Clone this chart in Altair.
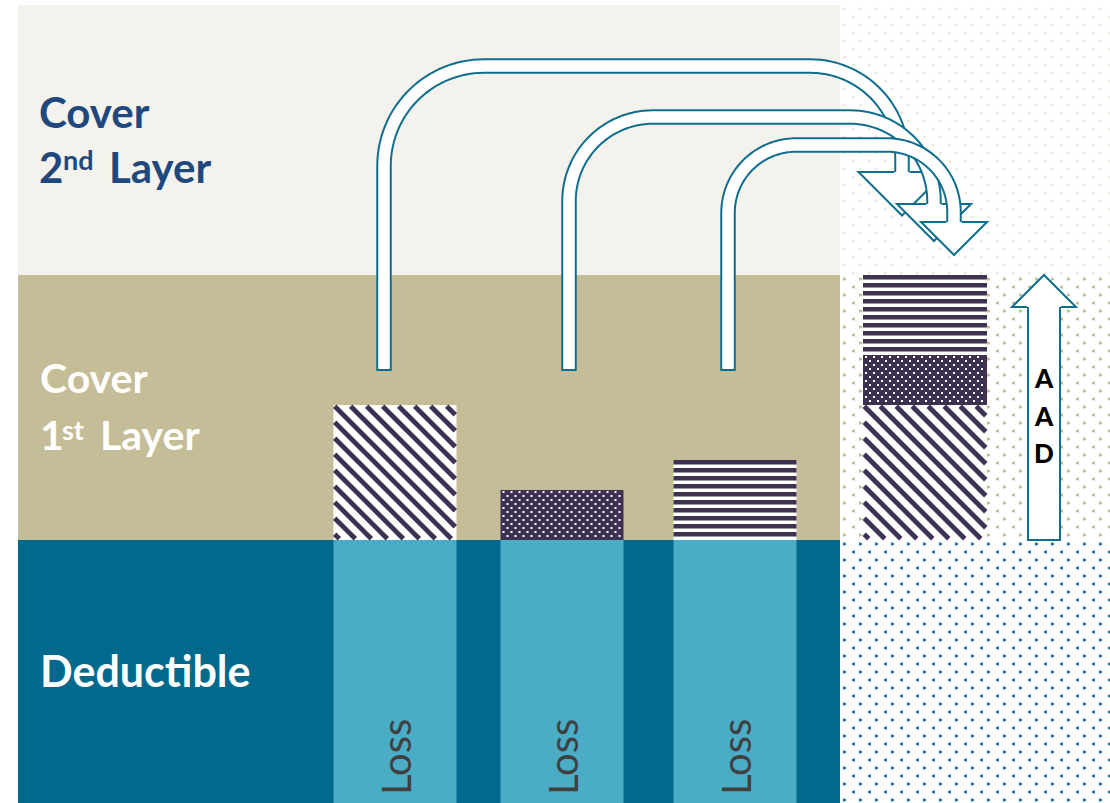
import altair as alt
import numpy as np
import pandas as pd

W, H = 1110, 803

# ---------------- data ----------------
LAYER_NAMES = ["Deductible", "Cover 1st Layer", "Cover 2nd Layer"]
LAYER_FROM = [0, 263, 528]
LAYER_TO = [263, 528, 798]
LAYER_FILL = ["#00698C", "#C4BD97", "#F3F2EC"]

LOSS_NAMES = ["Loss", "Loss", "Loss"]
LOSS_CENTRE = [395, 562, 735]
LOSS_TOTAL = [398, 313, 343]
LOSS_PATTERN = ["diagonal", "dots", "horizontal"]

AAD_LETTERS = ["A", "A", "D"]

LABEL_TEXT = ["Cover", "2", "nd", "Layer", "Cover", "1", "st", "Layer", "Deductible"]
LABEL_X = [39, 39, 63, 109, 40, 40, 62, 100, 40]
LABEL_BASE_PX = [128, 183, 170, 183, 393, 450, 440, 450, 687]
LABEL_SIZE = [42, 42, 27, 42, 41, 41, 27, 41, 43]
LABEL_COLOR = ["#1F497D"] * 4 + ["white"] * 5

# ---------------- styles / layout ----------------
TEAL = "#0F6E8E"
PURPLE = "#3F3151"
LOSS_BLUE = "#4BACC6"
PANEL_L, PANEL_R = 18, 840
BAR_W = 123
STACK_X0, STACK_X1 = 863, 987
DEDUCTIBLE = LAYER_TO[0]

XS = alt.Scale(domain=[0, W], nice=False, zero=False)
YS = alt.Scale(domain=[0, H], nice=False, zero=False)


def v(py):
    return H - py


def rect_layer(df, **mk):
    return alt.Chart(df).mark_rect(**mk).encode(
        x=alt.X("x0:Q", scale=XS, axis=None), x2="x1:Q",
        y=alt.Y("y0:Q", scale=YS, axis=None), y2="y1:Q",
        color=alt.Color("c:N", scale=None))


# ---- bands ----
bands = pd.DataFrame({"x0": PANEL_L, "x1": PANEL_R, "y0": LAYER_FROM,
                      "y1": LAYER_TO, "c": LAYER_FILL, "n": LAYER_NAMES})

# ---- right panel texture ----
glyphs = []
regions = [(5, 275, "#ECE9DC"), (275, 540, "#BDB58C"), (540, 803, "#00698C")]
for top, bot, col in regions:
    j = 0
    while True:
        ya = top + 4 + 16 * j
        if ya > bot:
            break
        for i in range(17):
            glyphs.append({"x": 845 + 16 * i, "y": v(ya), "c": col, "s": "r"})
        yb = ya + 8
        if yb < bot:
            for i in range(17):
                glyphs.append({"x": 853 + 16 * i, "y": v(yb), "c": col, "s": "l"})
        j += 1
glyphs = pd.DataFrame(glyphs)

# ---- patterns ----
bg_rects, stripe_rects, diag, dots = [], [], [], []


def add_pattern(kind, x0, x1, v0, v1):
    top, bot = v(v1), v(v0)
    if kind == "dots":
        bg_rects.append(dict(x0=x0, x1=x1, y0=v0, y1=v1, c=PURPLE))
        j = 0
        py = top + 2
        while py < bot - 1:
            off = 3 if j % 2 == 0 else 7
            px = x0 + off
            while px < x1 - 1:
                dots.append(dict(x=px, y=v(py)))
                px += 8
            py += 4
            j += 1
    elif kind == "horizontal":
        bg_rects.append(dict(x0=x0, x1=x1, y0=v0, y1=v1, c="white"))
        py = top
        while py < bot:
            stripe_rects.append(dict(x0=x0, x1=x1, y0=v(min(py + 4.6, bot)),
                                     y1=v(py), c=PURPLE))
            py += 8
    else:
        bg_rects.append(dict(x0=x0, x1=x1, y0=v0, y1=v1, c="white"))
        period = 16
        kb = x0 - top
        mmin = int(np.floor(((x0 - bot) - kb) / period)) - 1
        mmax = int(np.ceil(((x1 - top) - kb) / period)) + 1
        for m in range(mmin, mmax + 1):
            k = kb + m * period
            xa = max(x0 + 1.2, top + k + 1.2)
            xb = min(x1 - 1.2, bot + k - 1.2)
            if xb - xa > 0.5:
                diag.append(dict(x0=xa, y0=v(xa - k), x1=xb, y1=v(xb - k)))


loss_rects = []
for cx, tot, pat in zip(LOSS_CENTRE, LOSS_TOTAL, LOSS_PATTERN):
    x0, x1 = cx - BAR_W / 2, cx + BAR_W / 2
    loss_rects.append(dict(x0=x0, x1=x1, y0=0, y1=DEDUCTIBLE, c=LOSS_BLUE))
    add_pattern(pat, x0, x1, DEDUCTIBLE, tot)

# stacked aggregate on the right
base = DEDUCTIBLE
for tot, pat in zip(LOSS_TOTAL, LOSS_PATTERN):
    ex = tot - DEDUCTIBLE
    add_pattern(pat, STACK_X0, STACK_X1, base, base + ex)
    base += ex

loss_rects = pd.DataFrame(loss_rects)
bg_rects = pd.DataFrame(bg_rects)
stripe_rects = pd.DataFrame(stripe_rects)
diag = pd.DataFrame(diag)
dots = pd.DataFrame(dots)

layers = [
    rect_layer(bands),
    alt.Chart(glyphs[glyphs.s == "r"]).mark_point(filled=True, shape="triangle-right", size=18, opacity=1).encode(
        x=alt.X("x:Q", scale=XS, axis=None), y=alt.Y("y:Q", scale=YS, axis=None),
        color=alt.Color("c:N", scale=None)),
    alt.Chart(glyphs[glyphs.s == "l"]).mark_point(filled=True, shape="triangle-left", size=18, opacity=1).encode(
        x=alt.X("x:Q", scale=XS, axis=None), y=alt.Y("y:Q", scale=YS, axis=None),
        color=alt.Color("c:N", scale=None)),
    rect_layer(loss_rects),
    rect_layer(bg_rects),
    rect_layer(stripe_rects),
    alt.Chart(diag).mark_rule(color=PURPLE, strokeWidth=4.8, strokeCap="butt").encode(
        x=alt.X("x0:Q", scale=XS, axis=None), x2="x1:Q",
        y=alt.Y("y0:Q", scale=YS, axis=None), y2="y1:Q"),
    alt.Chart(dots).mark_square(size=4, color="white", opacity=1).encode(
        x=alt.X("x:Q", scale=XS, axis=None), y=alt.Y("y:Q", scale=YS, axis=None)),
]

# ---- curved transfer arrows ----
ARROWS = [
    # start x, bottom px, top px, r1, end x, r2, head base px, head half width
    (384, 371, 66, 100, 902, 92, 172, 43.5),
    (569, 371, 117, 84, 934, 84, 204, 37),
    (728, 371, 145, 68, 954, 67, 222, 33),
]


def tube(xs, yb, yt, r1, xe, r2, ye, n=30):
    pts = [(xs, yb), (xs, yt + r1)]
    for a in np.linspace(np.pi, 1.5 * np.pi, n)[1:]:
        pts.append((xs + r1 + r1 * np.cos(a), yt + r1 + r1 * np.sin(a)))
    pts.append((xe - r2, yt))
    for a in np.linspace(1.5 * np.pi, 2 * np.pi, n)[1:]:
        pts.append((xe - r2 + r2 * np.cos(a), yt + r2 + r2 * np.sin(a)))
    pts.append((xe, ye))
    return pts


for xs, yb, yt, r1, xe, r2, ye, hw in ARROWS:
    outer = pd.DataFrame([{"i": i, "x": p[0], "y": v(p[1])} for i, p in enumerate(tube(xs, yb, yt, r1, xe, r2, ye))])
    inner = pd.DataFrame([{"i": i, "x": p[0], "y": v(p[1])} for i, p in enumerate(tube(xs, yb - 2, yt, r1, xe, r2, ye))])
    enc = dict(x=alt.X("x:Q", scale=XS, axis=None), y=alt.Y("y:Q", scale=YS, axis=None), order=alt.Order("i:Q"))
    layers.append(alt.Chart(outer).mark_line(color=TEAL, strokeWidth=15.5, strokeCap="butt", strokeJoin="round").encode(**enc))
    layers.append(alt.Chart(inner).mark_line(color="white", strokeWidth=11.5, strokeCap="butt", strokeJoin="round").encode(**enc))
    a = 7.75 / hw
    shape = f"M{-a:.4f},0L-1,0L0,1L1,0L{a:.4f},0"
    layers.append(alt.Chart(pd.DataFrame({"x": [xe], "y": [v(ye)]})).mark_point(
        shape=shape, size=(2 * hw) ** 2, filled=True, fill="white", stroke=TEAL,
        strokeWidth=2, opacity=1).encode(
        x=alt.X("x:Q", scale=XS, axis=None), y=alt.Y("y:Q", scale=YS, axis=None)))

# ---- AAD arrow ----
AAD_CX = 1044
head_hw = 32
head_base = LAYER_TO[1] - head_hw
layers.append(rect_layer(pd.DataFrame([dict(x0=AAD_CX - 16, x1=AAD_CX + 16, y0=DEDUCTIBLE, y1=head_base + 2, c="white")]),
                         stroke=TEAL, strokeWidth=2))
a = 17 / head_hw
layers.append(alt.Chart(pd.DataFrame({"x": [AAD_CX], "y": [head_base]})).mark_point(
    shape=f"M{-a:.4f},0L-1,0L0,-1L1,0L{a:.4f},0", size=(2 * head_hw) ** 2, filled=True,
    fill="white", stroke=TEAL, strokeWidth=2, opacity=1).encode(
    x=alt.X("x:Q", scale=XS, axis=None), y=alt.Y("y:Q", scale=YS, axis=None)))

aad = pd.DataFrame({"t": AAD_LETTERS, "x": AAD_CX, "y": [v(388 + 37.5 * i) for i in range(3)]})
layers.append(alt.Chart(aad).mark_text(font="Lato", fontWeight=900, fontSize=26, color="black",
                                       align="center", baseline="alphabetic").encode(
    x=alt.X("x:Q", scale=XS, axis=None), y=alt.Y("y:Q", scale=YS, axis=None), text="t:N"))

# ---- labels ----
labels = pd.DataFrame({"t": LABEL_TEXT, "x": LABEL_X, "y": [v(p) for p in LABEL_BASE_PX],
                       "s": LABEL_SIZE, "c": LABEL_COLOR})
layers.append(alt.Chart(labels).mark_text(font="Lato", fontWeight="bold", align="left",
                                          baseline="alphabetic").encode(
    x=alt.X("x:Q", scale=XS, axis=None), y=alt.Y("y:Q", scale=YS, axis=None), text="t:N",
    size=alt.Size("s:Q", scale=None), color=alt.Color("c:N", scale=None)))

loss_txt = pd.DataFrame({"t": LOSS_NAMES, "x": [c + 16 for c in LOSS_CENTRE], "y": v(795)})
layers.append(alt.Chart(loss_txt).mark_text(font="Lato", fontSize=40, color="#404040", angle=270,
                                            align="left", baseline="alphabetic").encode(
    x=alt.X("x:Q", scale=XS, axis=None), y=alt.Y("y:Q", scale=YS, axis=None), text="t:N"))

chart = alt.layer(*layers).properties(
    width=W, height=H, padding=0, autosize=alt.AutoSizeParams(type="none"),
    background="white",
).configure_view(stroke=None)

chart.save("out.html", embed_options={"renderer": "svg", "actions": False})
